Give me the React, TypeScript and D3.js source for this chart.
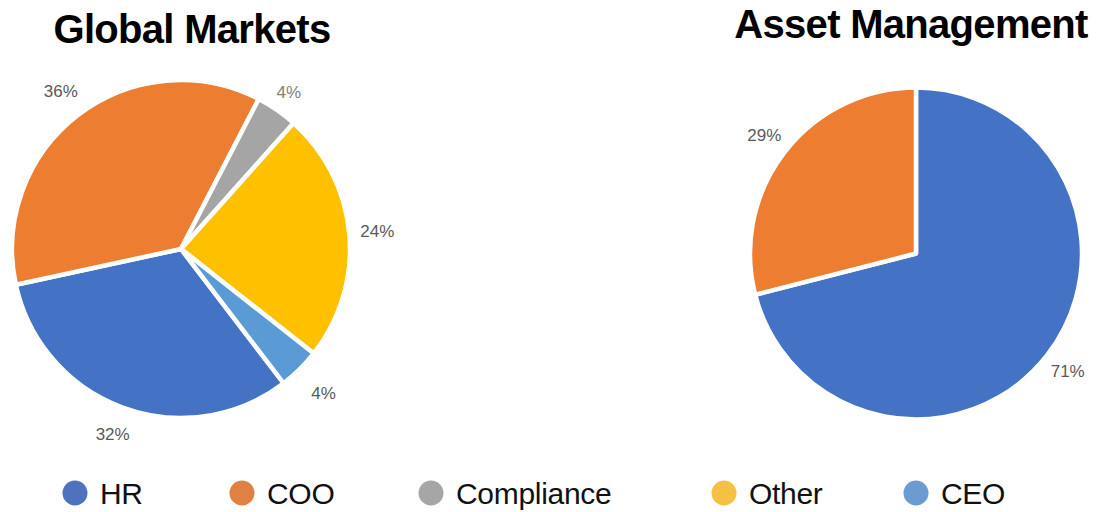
import React from "react";
import * as d3 from "d3";

// Categories shared by both pies and the legend
const categories = ["HR", "COO", "Compliance", "Other", "CEO"];
const sliceColors = ["#4472C4", "#ED7D31", "#A5A5A5", "#FFC000", "#5B9BD5"];
const legendColors = ["#4F72BE", "#E08042", "#A6A6A6", "#F5C143", "#6B9BD1"];

// Global Markets shares (percent)
const globalMarkets = [32, 36, 4, 24, 4];
// Asset Management shares (percent)
const assetManagement = [71, 29, 0, 0, 0];

const W = 1097;
const H = 512;

type PieSpec = {
  title: string;
  values: number[];
  cx: number;
  cy: number;
  r: number;
  labelR: number[];
  start: number; // degrees, clockwise from 12 o'clock
  titleX: number;
  titleY: number;
};

const pies: PieSpec[] = [
  {
    title: "Global Markets",
    values: globalMarkets,
    cx: 181,
    cy: 249,
    r: 169,
    labelR: [198, 198, 190, 197, 203],
    start: 142.6,
    titleX: 192,
    titleY: 43,
  },
  {
    title: "Asset Management",
    values: assetManagement,
    cx: 916,
    cy: 253.5,
    r: 166,
    labelR: [192, 192, 192, 192, 192],
    start: 0,
    titleX: 911,
    titleY: 38,
  },
];

const labelFont = "'Liberation Sans Narrow', 'Liberation Sans', Arial, sans-serif";

function Pie({ spec }: { spec: PieSpec }) {
  const a0 = (spec.start * Math.PI) / 180;
  const pie = d3
    .pie<number>()
    .sort(null)
    .value((d) => d)
    .startAngle(a0)
    .endAngle(a0 + 2 * Math.PI);
  const arcs = pie(spec.values);
  const arc = d3.arc<d3.PieArcDatum<number>>().innerRadius(0).outerRadius(spec.r);
  return (
    <g>
      <text
        x={spec.titleX}
        y={spec.titleY}
        textAnchor="middle"
        fontFamily="'Liberation Sans', Arial, sans-serif"
        fontWeight="bold"
        fontSize={40}
        letterSpacing={-0.7}
        fill="#000"
      >
        {spec.title}
      </text>
      <g transform={`translate(${spec.cx},${spec.cy})`}>
        {arcs.map((a, i) =>
          a.value > 0 ? (
            <path
              key={i}
              d={arc(a) || ""}
              fill={sliceColors[i]}
              stroke="#fff"
              strokeWidth={4.5}
              strokeLinejoin="round"
            />
          ) : null
        )}
        {arcs.map((a, i) => {
          if (a.value <= 0) return null;
          const lr = spec.labelR[i];
          const [lx, ly] = d3.arc<d3.PieArcDatum<number>>().innerRadius(lr).outerRadius(lr).centroid(a);
          const isCompliance = categories[i] === "Compliance";
          return (
            <text
              key={"l" + i}
              x={lx}
              y={ly}
              textAnchor="middle"
              dominantBaseline="central"
              fontFamily={isCompliance ? "'Liberation Sans', Arial, sans-serif" : labelFont}
              fontSize={17}
              fill={isCompliance ? "#808080" : "#595959"}
            >
              {`${a.value}%`}
            </text>
          );
        })}
      </g>
    </g>
  );
}

// Legend placement along the bottom
const legendX = [75, 242, 431, 724, 916];

export default function App() {
  return (
    <svg
      width={W}
      height={H}
      viewBox={`0 0 ${W} ${H}`}
      style={{ position: "fixed", left: 0, top: 0, background: "#fff", display: "block" }}
    >
      <rect width={W} height={H} fill="#fff" />
      {pies.map((p) => (
        <Pie key={p.title} spec={p} />
      ))}
      <g>
        {categories.map((c, i) => (
          <g key={c} transform={`translate(${legendX[i]},493)`}>
            <circle r={12.5} fill={legendColors[i]} />
            <text
              x={25}
              y={11}
              fontFamily="'Liberation Sans', Arial, sans-serif"
              fontSize={30}
              letterSpacing={-0.3}
              fill="#111"
            >
              {c}
            </text>
          </g>
        ))}
      </g>
    </svg>
  );
}
